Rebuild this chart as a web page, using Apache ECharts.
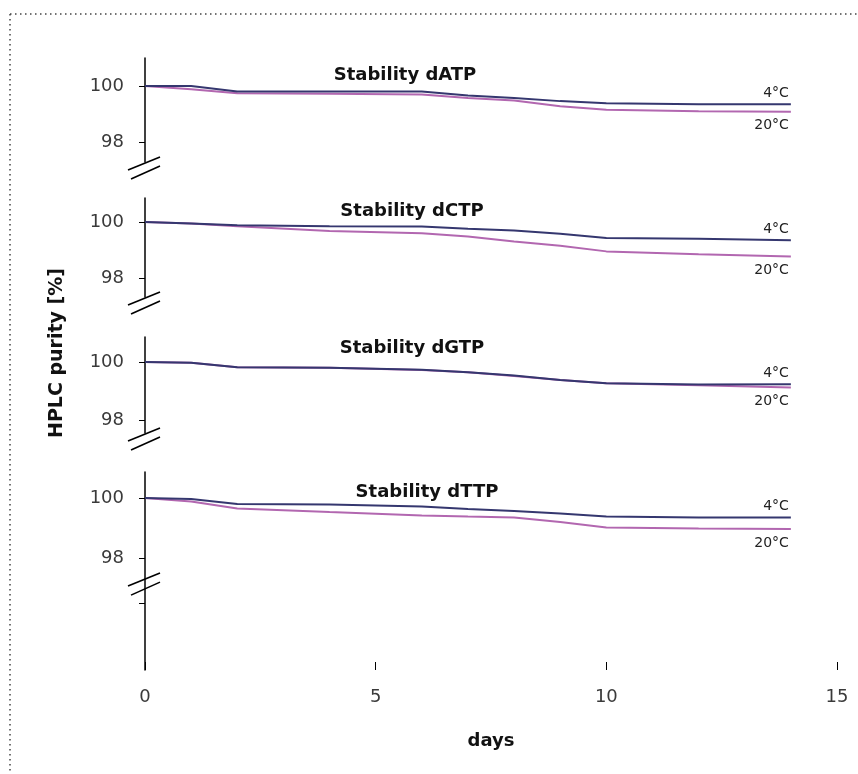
<!DOCTYPE html>
<html>
<head>
<meta charset="utf-8">
<script src="https://cdn.jsdelivr.net/npm/echarts/dist/echarts.min.js"></script>
<style>
html,body{margin:0;padding:0;background:#fff;}
#c{width:858px;height:774px;}
</style>
</head>
<body>
<div id="c"></div>
<script>
// ---- data ----
const days = [0, 1, 2, 4, 6, 7, 8, 9, 10, 12, 14];
const dATP_4C  = [100, 100, 99.8, 99.8, 99.8, 99.66, 99.57, 99.46, 99.38, 99.35, 99.35];
const dATP_20C = [100, 99.88, 99.74, 99.72, 99.7, 99.57, 99.48, 99.28, 99.15, 99.1, 99.08];
const dCTP_4C  = [100, 99.95, 99.88, 99.85, 99.84, 99.76, 99.7, 99.58, 99.43, 99.4, 99.35];
const dCTP_20C = [100, 99.95, 99.85, 99.68, 99.6, 99.48, 99.3, 99.15, 98.95, 98.85, 98.77];
const dGTP_4C  = [100, 99.97, 99.82, 99.8, 99.73, 99.65, 99.53, 99.38, 99.27, 99.22, 99.23];
const dGTP_20C = [100, 99.97, 99.82, 99.8, 99.72, 99.65, 99.52, 99.38, 99.27, 99.2, 99.12];
const dTTP_4C  = [100, 99.97, 99.8, 99.78, 99.72, 99.63, 99.57, 99.48, 99.38, 99.35, 99.35];
const dTTP_20C = [100, 99.88, 99.65, 99.53, 99.42, 99.38, 99.35, 99.2, 99.02, 98.98, 98.97];
const panelTitles = ['Stability dATP', 'Stability dCTP', 'Stability dGTP', 'Stability dTTP'];
const seriesNames = ['4°C', '20°C'];
const yTickValues = [98, 100];
const xTicks = [0, 5, 10, 15];

const panelData = [
  [dATP_4C, dATP_20C],
  [dCTP_4C, dCTP_20C],
  [dGTP_4C, dGTP_20C],
  [dTTP_4C, dTTP_20C]
];

// ---- layout ----
const FONT = '"DejaVu Sans", "Liberation Sans", Arial, sans-serif';
const colors = ['#35376f', '#b267b0'];
const layout = [
  {top: 58,  height: 104, min: 97.286, max: 101,     titleX: 405, titleY: 75},
  {top: 198, height: 99,  min: 97.32,  max: 100.857, titleX: 412, titleY: 211},
  {top: 337, height: 96,  min: 97.55,  max: 100.862, titleX: 412, titleY: 348},
  {top: 472, height: 198, min: 94.267, max: 100.867, titleX: 427, titleY: 492}
];

const chart = echarts.init(document.getElementById('c'), null, {renderer: 'canvas'});

const grid = [], xAxis = [], yAxis = [], series = [];
layout.forEach((L, i) => {
  grid.push({left: 145, width: 692, top: L.top, height: L.height});
  const last = i === layout.length - 1;
  xAxis.push({
    type: 'value', gridIndex: i, min: 0, max: 15, interval: 5,
    show: last,
    axisLine: {show: false},
    axisTick: {show: last, inside: true, length: 8, lineStyle: {color: '#000', width: 1}},
    axisLabel: {show: last, margin: 18, fontSize: 18, color: '#3a3a3a', fontFamily: FONT,
                customValues: xTicks},
    splitLine: {show: false},
    name: last ? 'days' : '',
    nameLocation: 'middle', nameGap: 62,
    nameTextStyle: {fontSize: 18, fontWeight: 'bold', color: '#111', fontFamily: FONT}
  });
  const tickVals = last ? [96.5].concat(yTickValues) : yTickValues;
  yAxis.push({
    type: 'value', gridIndex: i, min: L.min, max: L.max,
    axisLine: {show: true, lineStyle: {color: '#000', width: 1.5}},
    axisTick: {show: true, length: 6, customValues: tickVals, lineStyle: {color: '#000', width: 1}},
    axisLabel: {margin: 21, fontSize: 18, color: '#3a3a3a', fontFamily: FONT, customValues: yTickValues},
    splitLine: {show: false}
  });
  // draw 20°C first, then 4°C
  [1, 0].forEach(s => {
    series.push({
      type: 'line', name: seriesNames[s], xAxisIndex: i, yAxisIndex: i,
      data: days.map((d, k) => [d, panelData[i][s][k]]),
      showSymbol: false, smooth: false,
      lineStyle: {color: colors[s], width: 2},
      itemStyle: {color: colors[s]},
      endLabel: {
        show: true, formatter: seriesNames[s], align: 'right', distance: 0,
        offset: s === 0 ? [-2, -11] : [-2, 14],
        fontSize: 14, color: '#222', fontFamily: FONT
      },
      z: s === 0 ? 3 : 2,
      animation: false
    });
  });
});

chart.setOption({
  animation: false,
  backgroundColor: '#fff',
  grid, xAxis, yAxis, series
});

// decorations: panel titles, axis breaks, y-axis title, dotted frame
const graphics = [];
layout.forEach((L, i) => {
  graphics.push({
    type: 'text', x: L.titleX, y: L.titleY,
    style: {text: panelTitles[i], font: 'bold 18px ' + FONT, fill: '#111',
            textAlign: 'center', textVerticalAlign: 'middle'}
  });
});
const breakAt = [layout[0].min, layout[1].min, layout[2].min, 97.33];
breakAt.forEach((v, i) => {
  const p = chart.convertToPixel({gridIndex: i}, [0, v]);
  graphics.push({type: 'line', shape: {x1: p[0] - 17, y1: p[1] + 8, x2: p[0] + 15, y2: p[1] - 5},
                 style: {stroke: '#000', lineWidth: 1.6}});
  graphics.push({type: 'line', shape: {x1: p[0] - 14, y1: p[1] + 17, x2: p[0] + 15, y2: p[1] + 4},
                 style: {stroke: '#000', lineWidth: 1.6}});
});
graphics.push({
  type: 'text', x: 57, y: 353, rotation: Math.PI / 2,
  style: {text: 'HPLC purity [%]', font: 'bold 19px ' + FONT, fill: '#111',
          textAlign: 'center', textVerticalAlign: 'middle'}
});
graphics.push({type: 'line', shape: {x1: 10, y1: 14, x2: 858, y2: 14},
               style: {stroke: '#444', lineWidth: 1.5, lineDash: [1.5, 3.5]}});
graphics.push({type: 'line', shape: {x1: 10, y1: 14, x2: 10, y2: 774},
               style: {stroke: '#444', lineWidth: 1.5, lineDash: [1.5, 3.5]}});
chart.setOption({graphic: graphics});
</script>
</body>
</html>
